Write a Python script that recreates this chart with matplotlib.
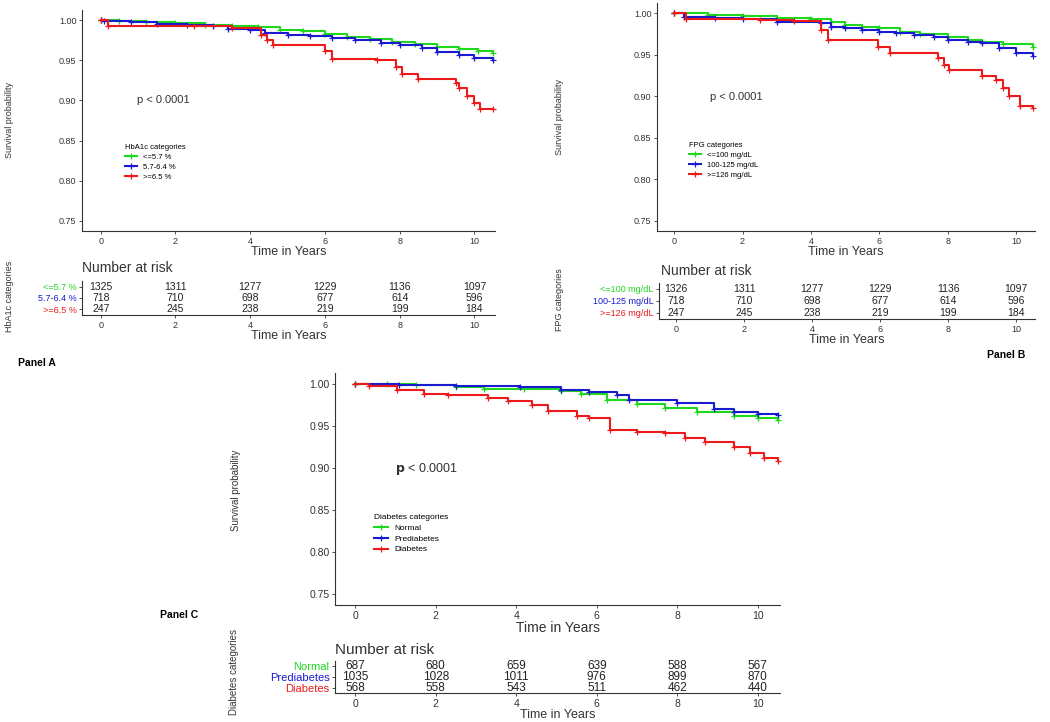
import matplotlib
matplotlib.use("Agg")
import matplotlib.pyplot as plt

plt.rcParams['font.family'] = ['Liberation Sans', 'DejaVu Sans']

# ---- data ----
risk_times = [0, 2, 4, 6, 8, 10]

# Panel A: HbA1c
a_names = ['<=5.7 %', '5.7-6.4 %', '>=6.5 %']
a_green_t = [0, 0.5, 1.2, 2.0, 2.8, 3.5, 4.2, 4.8, 5.4, 6.0, 6.6, 7.2, 7.8, 8.4, 9.0, 9.6, 10.1, 10.5]
a_green_s = [1.0, 0.999, 0.997, 0.996, 0.994, 0.993, 0.991, 0.988, 0.986, 0.983, 0.979, 0.976, 0.973, 0.970, 0.967, 0.964, 0.961, 0.959]
a_blue_t = [0, 0.1, 0.8, 1.5, 2.3, 3.0, 3.4, 4.0, 4.4, 5.0, 5.6, 6.2, 6.8, 7.5, 8.0, 8.6, 9.0, 9.6, 10.0, 10.5]
a_blue_s = [1.0, 0.999, 0.997, 0.995, 0.994, 0.992, 0.989, 0.988, 0.984, 0.982, 0.980, 0.978, 0.975, 0.972, 0.969, 0.965, 0.960, 0.957, 0.953, 0.950]
a_red_t = [0, 0.2, 2.5, 3.5, 4.3, 4.45, 4.6, 6.0, 6.2, 7.4, 7.9, 8.05, 8.5, 9.5, 9.6, 9.8, 10.0, 10.15, 10.5]
a_red_s = [1.0, 0.993, 0.992, 0.990, 0.982, 0.975, 0.969, 0.962, 0.951, 0.950, 0.941, 0.933, 0.927, 0.922, 0.915, 0.905, 0.897, 0.889, 0.889]
a_risk = [[1325, 1311, 1277, 1229, 1136, 1097],
          [718, 710, 698, 677, 614, 596],
          [247, 245, 238, 219, 199, 184]]

# Panel B: FPG
b_names = ['<=100 mg/dL', '100-125 mg/dL', '>=126 mg/dL']
b_green_t = [0, 1.0, 2.0, 3.0, 4.0, 4.6, 5.0, 5.5, 6.0, 6.6, 7.2, 8.0, 8.6, 9.0, 9.6, 10.5]
b_green_s = [1.0, 0.998, 0.997, 0.995, 0.993, 0.990, 0.986, 0.984, 0.982, 0.978, 0.975, 0.972, 0.968, 0.966, 0.963, 0.960]
b_blue_t = [0, 0.3, 1.2, 2.0, 3.0, 4.3, 4.6, 5.0, 5.5, 6.0, 6.5, 7.0, 7.6, 8.0, 8.6, 9.0, 9.5, 10.0, 10.5]
b_blue_s = [1.0, 0.996, 0.994, 0.993, 0.990, 0.988, 0.984, 0.982, 0.980, 0.978, 0.976, 0.974, 0.971, 0.968, 0.966, 0.964, 0.958, 0.952, 0.948]
b_red_t = [0, 0.34, 2.5, 3.5, 4.3, 4.5, 5.97, 6.3, 7.7, 7.9, 8.05, 9.0, 9.4, 9.6, 9.8, 10.1, 10.5]
b_red_s = [1.0, 0.993, 0.992, 0.991, 0.980, 0.968, 0.960, 0.952, 0.946, 0.938, 0.932, 0.924, 0.920, 0.910, 0.900, 0.888, 0.886]
b_risk = [[1326, 1311, 1277, 1229, 1136, 1097],
          [718, 710, 698, 677, 614, 596],
          [247, 245, 238, 219, 199, 184]]

# Panel C: diabetes status
c_names = ['Normal', 'Prediabetes', 'Diabetes']
c_green_t = [0, 0.8, 1.5, 2.5, 3.2, 4.2, 5.1, 5.6, 6.25, 7.0, 7.7, 8.5, 9.4, 10.0, 10.5]
c_green_s = [1.0, 0.999, 0.998, 0.996, 0.994, 0.993, 0.991, 0.988, 0.981, 0.976, 0.971, 0.966, 0.961, 0.959, 0.957]
c_blue_t = [0, 1.1, 2.5, 4.1, 5.1, 5.8, 6.5, 6.8, 8.0, 8.9, 9.4, 10.0, 10.5]
c_blue_s = [1.0, 0.998, 0.997, 0.996, 0.992, 0.990, 0.987, 0.981, 0.977, 0.970, 0.966, 0.964, 0.963]
c_red_t = [0, 0.35, 1.05, 1.7, 2.3, 3.3, 3.8, 4.4, 4.8, 5.5, 5.8, 6.33, 7.0, 7.7, 8.2, 8.7, 9.4, 9.8, 10.15, 10.5]
c_red_s = [1.0, 0.997, 0.992, 0.988, 0.986, 0.983, 0.979, 0.975, 0.967, 0.962, 0.959, 0.945, 0.943, 0.941, 0.936, 0.931, 0.925, 0.918, 0.912, 0.908]
c_risk = [[687, 680, 659, 639, 588, 567],
          [1035, 1028, 1011, 976, 899, 870],
          [568, 558, 543, 511, 462, 440]]

cols = ['#1ed81e', '#1a1ad0', '#ec1a1a']

W, H = 1050, 722
fig = plt.figure(figsize=(W / 100, H / 100), dpi=100)


def box(l, t, r, b):
    return [l / W, 1 - b / H, (r - l) / W, (b - t) / H]


def fx(x):
    return x / W


def fy(y):
    return 1 - y / H


def style_axis(ax, fs):
    for s in ['top', 'right']:
        ax.spines[s].set_visible(False)
    for s in ['left', 'bottom']:
        ax.spines[s].set_linewidth(0.8)
        ax.spines[s].set_color('#333333')
    ax.tick_params(labelsize=fs, length=2.5, width=0.6, pad=1.5, colors='#333333')
    ax.set_xlim(-0.5, 10.55)
    ax.set_xticks(risk_times)


def km_panel(rect, curves, names, title, ptxt, ppos, legpos, fs, pfs, lfs):
    ax = fig.add_axes(box(*rect))
    for (t, s), c, n in zip(curves, cols, names):
        ax.plot(t, s, drawstyle='steps-post', color=c, lw=1.5, marker='+',
                ms=4, mew=0.9, label=n, clip_on=False)
    style_axis(ax, fs)
    ax.set_ylim(0.7375, 1.0125)
    ax.set_yticks([0.75, 0.80, 0.85, 0.90, 0.95, 1.00])
    ax.set_yticklabels(['0.75', '0.80', '0.85', '0.90', '0.95', '1.00'])
    ax.set_xlabel('Time in Years', fontsize=fs + 2.5, labelpad=0.5, color='#333333')
    fig.text(fx(ppos[0]), fy(ppos[1]), ptxt, fontsize=pfs, ha='left', va='center', color='#333333')
    ax.legend(loc='upper left', bbox_to_anchor=(fx(legpos[0]), fy(legpos[1])),
              bbox_transform=fig.transFigure, frameon=False, title=title,
              fontsize=lfs, title_fontsize=lfs, handlelength=1.6,
              handletextpad=0.8, labelspacing=0.35, borderpad=0, alignment='left')
    return ax


def risk_panel(rect, risk, names, fs, lfs, xfs):
    ax = fig.add_axes(box(*rect))
    for i, row in enumerate(risk):
        for t, n in zip(risk_times, row):
            ax.text(t, 3 - i, str(n), ha='center', va='center', fontsize=fs, color='#222222')
    style_axis(ax, fs - 1)
    ax.set_ylim(0.5, 3.5)
    ax.set_yticks([3, 2, 1])
    ax.set_yticklabels(names, fontsize=lfs)
    for lab, c in zip(ax.get_yticklabels(), cols):
        lab.set_color(c)
    ax.set_xlabel('Time in Years', fontsize=xfs, labelpad=0, color='#333333')
    return ax


# Panel A
km_panel((82, 10, 495, 231),
         [(a_green_t, a_green_s), (a_blue_t, a_blue_s), (a_red_t, a_red_s)],
         a_names, 'HbA1c categories', 'p < 0.0001', (137, 100), (121, 140), 6.5, 8, 5.5)
risk_panel((82, 281, 495, 315), a_risk, a_names, 7.5, 6.5, 9)
fig.text(fx(10), fy(120), 'Survival probability', rotation=90, fontsize=6.5,
         ha='center', va='center', color='#333333')
fig.text(fx(10), fy(296), 'HbA1c categories', rotation=90, fontsize=6.5,
         ha='center', va='center', color='#333333')
fig.text(fx(82), fy(268), 'Number at risk', fontsize=10, ha='left', va='center', color='#333333')
fig.text(fx(18), fy(363), 'Panel A', fontsize=7.5, fontweight='bold', ha='left', va='center')

# Panel B
km_panel((657, 3, 1035, 231),
         [(b_green_t, b_green_s), (b_blue_t, b_blue_s), (b_red_t, b_red_s)],
         b_names, 'FPG categories', 'p < 0.0001', (710, 97), (685, 138), 6.5, 8, 5.5)
risk_panel((659, 283, 1035, 319), b_risk, b_names, 7.5, 6.5, 9)
fig.text(fx(559), fy(117), 'Survival probability', rotation=90, fontsize=6.5,
         ha='center', va='center', color='#333333')
fig.text(fx(559), fy(300), 'FPG categories', rotation=90, fontsize=6.5,
         ha='center', va='center', color='#333333')
fig.text(fx(661), fy(271), 'Number at risk', fontsize=10, ha='left', va='center', color='#333333')
fig.text(fx(1025), fy(355), 'Panel B', fontsize=7.5, fontweight='bold', ha='right', va='center')

# Panel C
km_panel((335, 373, 780, 605),
         [(c_green_t, c_green_s), (c_blue_t, c_blue_s), (c_red_t, c_red_s)],
         c_names, 'Diabetes categories', r'$\mathbf{p}$ < 0.0001', (395, 469), (370, 510), 7.5, 9, 6)
risk_panel((335, 661, 780, 693), c_risk, c_names, 8.5, 8, 9)
fig.text(fx(236), fy(490), 'Survival probability', rotation=90, fontsize=7,
         ha='center', va='center', color='#333333')
fig.text(fx(234), fy(672), 'Diabetes categories', rotation=90, fontsize=7,
         ha='center', va='center', color='#333333')
fig.text(fx(335), fy(650), 'Number at risk', fontsize=11, ha='left', va='center', color='#333333')
fig.text(fx(160), fy(615), 'Panel C', fontsize=7.5, fontweight='bold', ha='left', va='center')

fig.savefig('out.png', dpi=100)
